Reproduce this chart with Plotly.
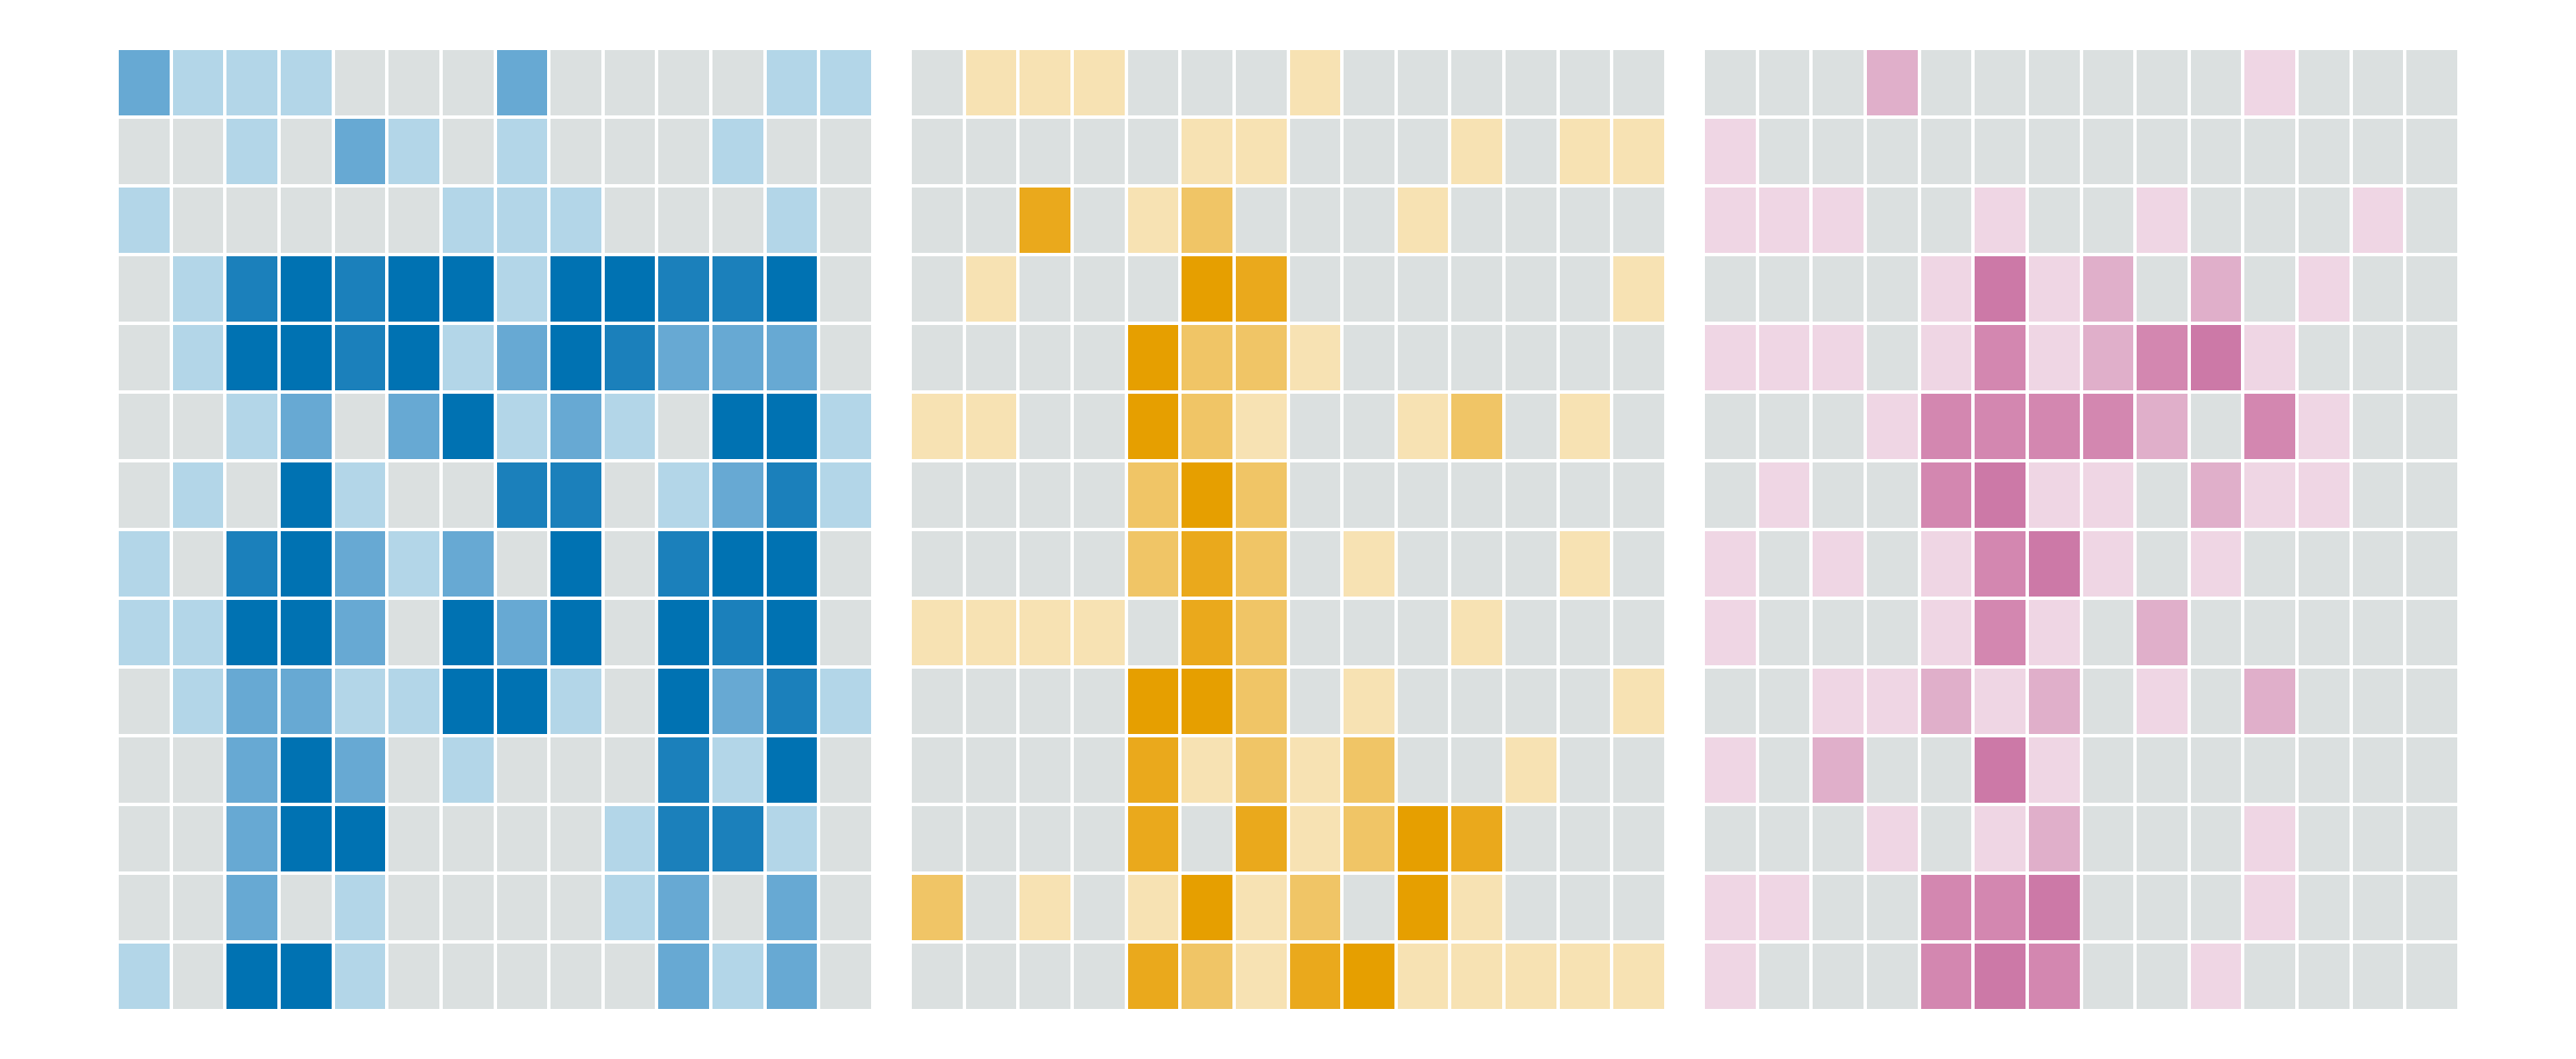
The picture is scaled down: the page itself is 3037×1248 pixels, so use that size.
import plotly.graph_objects as go

# Intensity levels: 0 = none (grey), 1..4 = increasing intensity
blue_grid = [
    [2,1,1,1,0,0,0,2,0,0,0,0,1,1],
    [0,0,1,0,2,1,0,1,0,0,0,1,0,0],
    [1,0,0,0,0,0,1,1,1,0,0,0,1,0],
    [0,1,3,4,3,4,4,1,4,4,3,3,4,0],
    [0,1,4,4,3,4,1,2,4,3,2,2,2,0],
    [0,0,1,2,0,2,4,1,2,1,0,4,4,1],
    [0,1,0,4,1,0,0,3,3,0,1,2,3,1],
    [1,0,3,4,2,1,2,0,4,0,3,4,4,0],
    [1,1,4,4,2,0,4,2,4,0,4,3,4,0],
    [0,1,2,2,1,1,4,4,1,0,4,2,3,1],
    [0,0,2,4,2,0,1,0,0,0,3,1,4,0],
    [0,0,2,4,4,0,0,0,0,1,3,3,1,0],
    [0,0,2,0,1,0,0,0,0,1,2,0,2,0],
    [1,0,4,4,1,0,0,0,0,0,2,1,2,0],
]

orange_grid = [
    [0,1,1,1,0,0,0,1,0,0,0,0,0,0],
    [0,0,0,0,0,1,1,0,0,0,1,0,1,1],
    [0,0,3,0,1,2,0,0,0,1,0,0,0,0],
    [0,1,0,0,0,4,3,0,0,0,0,0,0,1],
    [0,0,0,0,4,2,2,1,0,0,0,0,0,0],
    [1,1,0,0,4,2,1,0,0,1,2,0,1,0],
    [0,0,0,0,2,4,2,0,0,0,0,0,0,0],
    [0,0,0,0,2,3,2,0,1,0,0,0,1,0],
    [1,1,1,1,0,3,2,0,0,0,1,0,0,0],
    [0,0,0,0,4,4,2,0,1,0,0,0,0,1],
    [0,0,0,0,3,1,2,1,2,0,0,1,0,0],
    [0,0,0,0,3,0,3,1,2,4,3,0,0,0],
    [2,0,1,0,1,4,1,2,0,4,1,0,0,0],
    [0,0,0,0,3,2,1,3,4,1,1,1,1,1],
]

pink_grid = [
    [0,0,0,2,0,0,0,0,0,0,1,0,0,0],
    [1,0,0,0,0,0,0,0,0,0,0,0,0,0],
    [1,1,1,0,0,1,0,0,1,0,0,0,1,0],
    [0,0,0,0,1,4,1,2,0,2,0,1,0,0],
    [1,1,1,0,1,3,1,2,3,4,1,0,0,0],
    [0,0,0,1,3,3,3,3,2,0,3,1,0,0],
    [0,1,0,0,3,4,1,1,0,2,1,1,0,0],
    [1,0,1,0,1,3,4,1,0,1,0,0,0,0],
    [1,0,0,0,1,3,1,0,2,0,0,0,0,0],
    [0,0,1,1,2,1,2,0,1,0,2,0,0,0],
    [1,0,2,0,0,4,1,0,0,0,0,0,0,0],
    [0,0,0,1,0,1,2,0,0,0,1,0,0,0],
    [1,1,0,0,3,3,4,0,0,0,1,0,0,0],
    [1,0,0,0,3,4,3,0,0,1,0,0,0,0],
]

columns = list(range(1, 15))
rows = list(range(1, 15))

grey = "#DBE0E0"
blue_levels = [grey, "#B3D6E8", "#67A9D3", "#1B80BB", "#0072B2"]
orange_levels = [grey, "#F7E2B3", "#F0C566", "#EAA91C", "#E69F00"]
pink_levels = [grey, "#EFD6E4", "#E0AFCA", "#D387B0", "#CC79A7"]


def discrete_scale(levels):
    n = len(levels)
    scale = []
    for i, c in enumerate(levels):
        lo = max(0.0, (i - 0.5) / (n - 1))
        hi = min(1.0, (i + 0.5) / (n - 1))
        scale.append([lo, c])
        scale.append([hi, c])
    return scale


# page body has an 8px margin; size the figure to fit inside the window
W, H = 3021, 1232
x_domains = [(130, 1021), (1065, 1956), (2000, 2891)]
y_dom = [49 / H, 1183 / H]

fig = go.Figure()
panels = [(blue_grid, blue_levels), (orange_grid, orange_levels), (pink_grid, pink_levels)]
for i, (grid, levels) in enumerate(panels):
    ax = "" if i == 0 else str(i + 1)
    fig.add_trace(go.Heatmap(
        z=grid, x=columns, y=rows,
        zmin=0, zmax=4,
        colorscale=discrete_scale(levels),
        showscale=False, xgap=4, ygap=4,
        hoverinfo="skip",
        xaxis="x" + ax, yaxis="y" + ax,
    ))
    d0, d1 = x_domains[i]
    fig.layout["xaxis" + ax] = dict(domain=[d0 / W, d1 / W], showticklabels=False,
                                     showgrid=False, zeroline=False, ticks="",
                                     range=[0.5, 14.5], fixedrange=True,
                                     anchor="y" + ax)
    fig.layout["yaxis" + ax] = dict(domain=y_dom, showticklabels=False,
                                     showgrid=False, zeroline=False, ticks="",
                                     range=[14.5, 0.5], fixedrange=True,
                                     anchor="x" + ax)

fig.update_layout(
    width=W, height=H,
    margin=dict(l=0, r=0, t=0, b=0),
    paper_bgcolor="white", plot_bgcolor="white",
    showlegend=False,
)

fig.write_html("out.html", config={"displayModeBar": False})
